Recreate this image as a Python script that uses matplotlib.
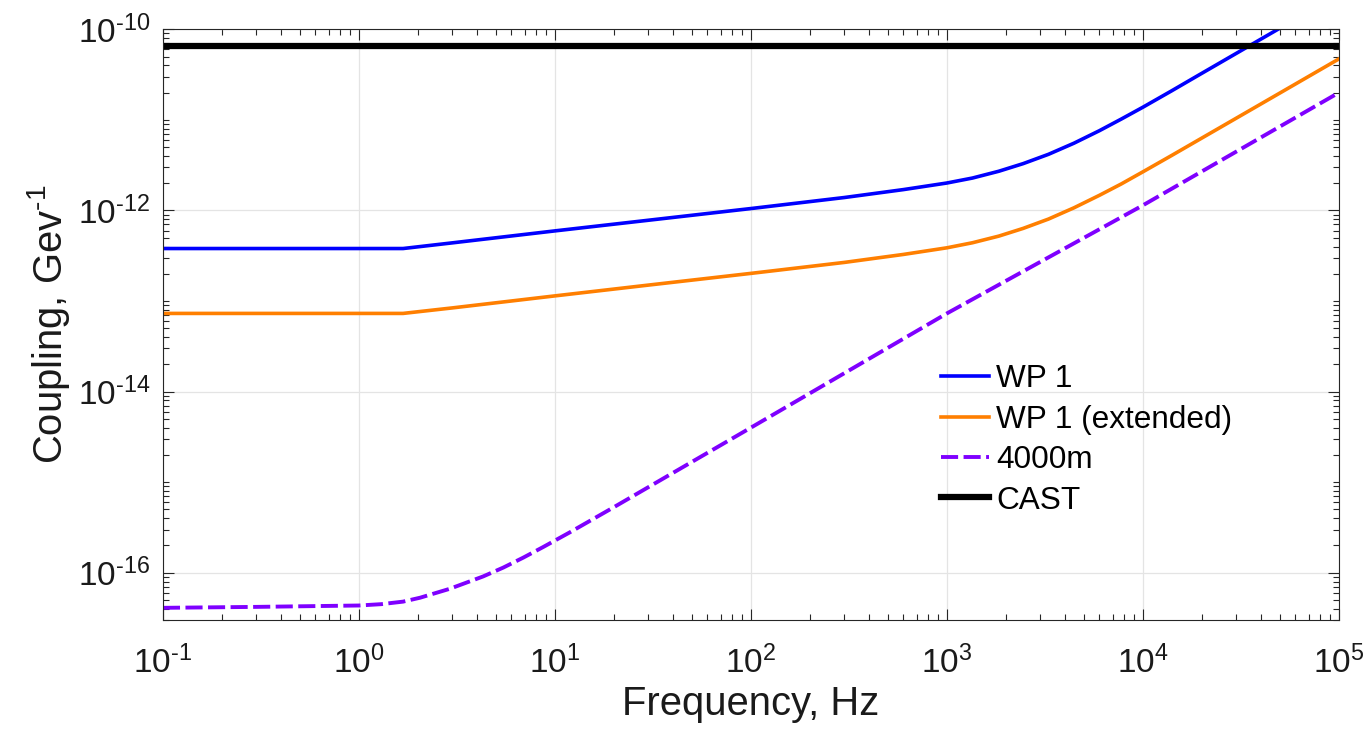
import matplotlib
matplotlib.use('Agg')
import matplotlib.pyplot as plt
from matplotlib.ticker import FixedLocator, LogLocator, NullFormatter, FuncFormatter
import numpy as np

plt.rcParams['font.family'] = ['Liberation Sans', 'DejaVu Sans']
plt.rcParams['mathtext.fontset'] = 'custom'
plt.rcParams['mathtext.rm'] = 'Liberation Sans'
plt.rcParams['mathtext.it'] = 'Liberation Sans:italic'
plt.rcParams['mathtext.bf'] = 'Liberation Sans:bold'

# frequency points (Hz)
freq_wp = [0.1, 1.68, 3, 10, 30, 100, 300, 600, 1000, 1350, 1840, 2450, 3300,
           4450, 6000, 7750, 1e4, 1.4e4, 1.95e4, 5e4, 1e5]
wp1 = [3.8e-13, 3.8e-13, 4.39e-13, 5.95e-13, 7.8e-13, 1.05e-12, 1.39e-12,
       1.7e-12, 2.01e-12, 2.28e-12, 2.71e-12, 3.29e-12, 4.17e-12, 5.53e-12,
       7.6e-12, 1.02e-11, 1.38e-11, 2.09e-11, 3.17e-11, 1.03e-10, 2.44e-10]
wp1_ext = [7.3e-14, 7.3e-14, 8.4e-14, 1.14e-13, 1.5e-13, 2.02e-13, 2.67e-13,
           3.27e-13, 3.87e-13, 4.4e-13, 5.21e-13, 6.34e-13, 8.04e-13,
           1.07e-12, 1.47e-12, 1.96e-12, 2.67e-12, 4.04e-12, 6.11e-12,
           1.98e-11, 4.71e-11]

freq_4000 = [0.1, 0.3, 1, 1.3, 1.68, 2.05, 2.9, 4.3, 5.45, 6.9, 8.7, 11.9,
             20, 100, 1000, 1e4, 1e5]
m4000 = [4.1e-17, 4.2e-17, 4.35e-17, 4.5e-17, 4.8e-17, 5.3e-17, 6.64e-17,
         9.1e-17, 1.14e-16, 1.47e-16, 1.92e-16, 2.79e-16, 5.3e-16, 4.0e-15,
         7.3e-14, 1.14e-12, 2.0e-11]

freq_cast = [0.1, 1e5]
cast = [6.6e-11, 6.6e-11]

x_ticks = [1e-1, 1, 1e1, 1e2, 1e3, 1e4, 1e5]
y_ticks = [1e-16, 1e-14, 1e-12, 1e-10]

fig = plt.figure(figsize=(13.69, 7.33), dpi=100)
ax = fig.add_axes([0.119, 0.154, 0.859, 0.806])

ax.loglog(freq_wp, wp1, color='#0000ff', lw=2.6, label='WP 1')
ax.loglog(freq_wp, wp1_ext, color='#ff7f00', lw=2.6, label='WP 1 (extended)')
ax.loglog(freq_4000, m4000, color='#7f00ff', lw=2.8, dashes=(4.4, 1.4),
          label='4000m')
ax.loglog(freq_cast, cast, color='black', lw=4.5, label='CAST')

ax.set_xlim(0.1, 1e5)
ax.set_ylim(3e-17, 1e-10)


def pow_label(v, pos):
    e = int(round(np.log10(v)))
    return r'$10^{\text{%d}}$' % e


ax.xaxis.set_major_locator(FixedLocator(x_ticks))
ax.xaxis.set_major_formatter(FuncFormatter(pow_label))
ax.xaxis.set_minor_locator(LogLocator(base=10, subs=np.arange(2, 10), numticks=50))
ax.xaxis.set_minor_formatter(NullFormatter())
ax.yaxis.set_major_locator(FixedLocator(y_ticks))
ax.yaxis.set_major_formatter(FuncFormatter(pow_label))
ax.yaxis.set_minor_locator(LogLocator(base=10, subs=np.arange(1, 10), numticks=50))
ax.yaxis.set_minor_formatter(NullFormatter())

edge = '#262626'
ax.tick_params(which='both', direction='in', top=True, right=True, colors=edge,
               width=0.8)
ax.tick_params(which='major', length=8, labelsize=24, labelcolor='#1a1a1a')
ax.tick_params(axis='x', which='major', pad=18)
ax.tick_params(axis='y', which='major', pad=9)
ax.tick_params(which='minor', length=4)
for s in ax.spines.values():
    s.set_color(edge)
    s.set_linewidth(0.8)

ax.grid(True, which='major', color='#e4e4e4', lw=0.9)
ax.set_axisbelow(True)

ax.set_xlabel('Frequency, Hz', fontsize=28.8, color='#1a1a1a', labelpad=4)
ax.set_ylabel(r'Coupling, Gev$^{\text{-1}}$', fontsize=28.8, color='#1a1a1a',
              labelpad=4)

ax.legend(loc='upper left', bbox_to_anchor=(0.662, 0.433), frameon=False,
          fontsize=22.7, handlelength=1.52, handletextpad=0.22,
          labelspacing=0.33, borderaxespad=0, borderpad=0)

fig.savefig('out.png', dpi=100)
